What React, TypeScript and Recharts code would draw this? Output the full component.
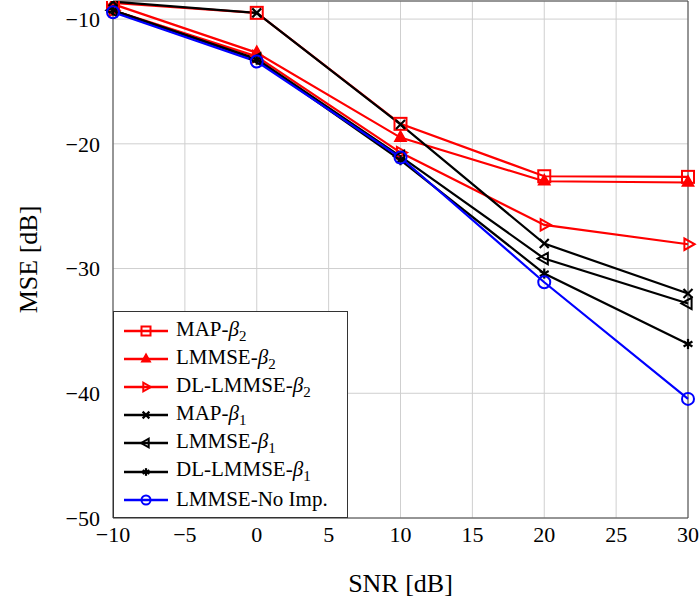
import { CartesianGrid, Line, LineChart, ReferenceLine, XAxis, YAxis } from "recharts";

// SNR points (dB)
const snr = [-10, 0, 10, 20, 30];

// MSE per estimator (dB)
const mapBeta2 = [-8.7, -9.5, -18.4, -22.6, -22.65];
const lmmseBeta2 = [-8.8, -12.7, -19.5, -23.0, -23.1];
const dlLmmseBeta2 = [-9.3, -13.0, -20.7, -26.5, -28.05];
const mapBeta1 = [-8.6, -9.5, -18.45, -28.0, -32.0];
const lmmseBeta1 = [-9.3, -13.2, -21.0, -29.2, -32.8];
const dlLmmseBeta1 = [-9.3, -13.25, -21.3, -30.4, -36.05];
const lmmseNoImp = [-9.45, -13.4, -21.1, -31.1, -40.45];

const xTicks = [-10, -5, 0, 5, 10, 15, 20, 25, 30];
const yTicks = [-50, -40, -30, -20, -10];
const yTop = -8.55;

type MarkerKind =
  | "square"
  | "triangleUp"
  | "triangleRight"
  | "cross"
  | "triangleLeft"
  | "star"
  | "circle";

interface Series {
  key: string;
  label: string;
  sub?: string;
  values: number[];
  color: string;
  marker: MarkerKind;
}

const series: Series[] = [
  { key: "mapB2", label: "MAP-", sub: "2", values: mapBeta2, color: "#ff0000", marker: "square" },
  { key: "lmmseB2", label: "LMMSE-", sub: "2", values: lmmseBeta2, color: "#ff0000", marker: "triangleUp" },
  { key: "dlB2", label: "DL-LMMSE-", sub: "2", values: dlLmmseBeta2, color: "#ff0000", marker: "triangleRight" },
  { key: "mapB1", label: "MAP-", sub: "1", values: mapBeta1, color: "#000000", marker: "cross" },
  { key: "lmmseB1", label: "LMMSE-", sub: "1", values: lmmseBeta1, color: "#000000", marker: "triangleLeft" },
  { key: "dlB1", label: "DL-LMMSE-", sub: "1", values: dlLmmseBeta1, color: "#000000", marker: "star" },
  { key: "noImp", label: "LMMSE-No Imp.", values: lmmseNoImp, color: "#0000ff", marker: "circle" },
];

const data = snr.map((x, i) => {
  const row: Record<string, number> = { snr: x };
  series.forEach((s) => {
    row[s.key] = s.values[i];
  });
  return row;
});

const FONT = "'Liberation Serif', 'DejaVu Serif', serif";
const minus = (v: number) => String(v).replace("-", "\u2212");

function Marker({
  kind,
  cx,
  cy,
  color,
  s,
}: {
  kind: MarkerKind;
  cx: number;
  cy: number;
  color: string;
  s: number;
}) {
  switch (kind) {
    case "square":
      return (
        <rect x={cx - s} y={cy - s} width={2 * s} height={2 * s} fill="none" stroke={color} strokeWidth={2} />
      );
    case "triangleUp":
      return (
        <polygon
          points={`${cx},${cy - s * 1.1} ${cx - s * 0.95},${cy + s * 0.6} ${cx + s * 0.95},${cy + s * 0.6}`}
          fill={color}
          stroke={color}
          strokeWidth={1.5}
        />
      );
    case "triangleRight":
      return (
        <polygon
          points={`${cx + s * 1.1},${cy} ${cx - s * 0.6},${cy - s * 0.95} ${cx - s * 0.6},${cy + s * 0.95}`}
          fill="none"
          stroke={color}
          strokeWidth={2}
        />
      );
    case "triangleLeft":
      return (
        <polygon
          points={`${cx - s * 1.1},${cy} ${cx + s * 0.6},${cy - s * 0.95} ${cx + s * 0.6},${cy + s * 0.95}`}
          fill="none"
          stroke={color}
          strokeWidth={2}
        />
      );
    case "cross": {
      const d = s * 0.75;
      return (
        <g stroke={color} strokeWidth={2.2}>
          <line x1={cx - d} y1={cy - d} x2={cx + d} y2={cy + d} />
          <line x1={cx - d} y1={cy + d} x2={cx + d} y2={cy - d} />
        </g>
      );
    }
    case "star": {
      // six-armed asterisk
      const arms = [0, 1, 2].map((k) => {
        const a = (90 + k * 60) * (Math.PI / 180);
        const dx = Math.cos(a) * s * 0.85;
        const dy = Math.sin(a) * s * 0.85;
        return <line key={k} x1={cx - dx} y1={cy - dy} x2={cx + dx} y2={cy + dy} />;
      });
      return (
        <g stroke={color} strokeWidth={2.2}>
          {arms}
        </g>
      );
    }
    case "circle":
    default:
      return <circle cx={cx} cy={cy} r={s} fill="none" stroke={color} strokeWidth={2} />;
  }
}

function LegendBox() {
  return (
    <div
      style={{
        position: "absolute",
        left: 113,
        top: 311,
        width: 235,
        height: 207,
        border: "1px solid #333",
        background: "#fff",
        fontFamily: FONT,
        fontSize: 21,
        paddingTop: 5,
        boxSizing: "border-box",
      }}
    >
      {series.map((s) => (
        <div key={s.key} style={{ height: 28.1, display: "flex", alignItems: "center" }}>
          <svg width={62} height={20} style={{ flexShrink: 0 }}>
            <line x1={10} y1={10} x2={54} y2={10} stroke={s.color} strokeWidth={2.5} />
            <Marker kind={s.marker} cx={32} cy={10} color={s.color} s={4.5} />
          </svg>
          <span style={{ whiteSpace: "nowrap" }}>
            {s.label}
            {s.sub && (
              <>
                <i>β</i>
                <sub style={{ fontSize: 15 }}>{s.sub}</sub>
              </>
            )}
          </span>
        </div>
      ))}
    </div>
  );
}

export default function App() {
  return (
    <div
      style={{
        position: "absolute",
        left: 0,
        top: 0,
        width: 700,
        height: 600,
        background: "#fff",
        fontFamily: FONT,
      }}
    >
      <LineChart
        width={700}
        height={600}
        data={data}
        margin={{ top: 1, right: 12, bottom: 0, left: 0 }}
        style={{ fontFamily: FONT }}
      >
        <CartesianGrid stroke="#cfcfcf" strokeWidth={1} />
        <XAxis
          dataKey="snr"
          type="number"
          domain={[-10, 30]}
          ticks={xTicks}
          tickFormatter={minus}
          height={82}
          tickLine={false}
          tickSize={0}
          tickMargin={8}
          axisLine={{ stroke: "#444" }}
          tick={{ fill: "#000", fontSize: 22, fontFamily: FONT }}
          label={{
            value: "SNR [dB]",
            position: "insideBottom",
            offset: 8,
            style: { fill: "#000", fontSize: 26, fontFamily: FONT },
          }}
        />
        <YAxis
          type="number"
          domain={[-50, yTop]}
          ticks={yTicks}
          tickFormatter={minus}
          width={113}
          tickLine={false}
          tickSize={0}
          tickMargin={13}
          axisLine={{ stroke: "#444" }}
          allowDataOverflow
          tick={{ fill: "#000", fontSize: 22, fontFamily: FONT }}
          label={{
            value: "MSE [dB]",
            angle: -90,
            position: "insideLeft",
            offset: 28,
            style: { fill: "#000", fontSize: 26, fontFamily: FONT, textAnchor: "middle" },
          }}
        />
        <ReferenceLine y={yTop} stroke="#444" />
        <ReferenceLine x={30} stroke="#444" />
        {series.map((s) => (
          <Line
            key={s.key}
            dataKey={s.key}
            type="linear"
            stroke={s.color}
            strokeWidth={2.2}
            isAnimationActive={false}
            dot={(p: any) => (
              <Marker key={`${s.key}-${p.index}`} kind={s.marker} cx={p.cx} cy={p.cy} color={s.color} s={6} />
            )}
            activeDot={false}
          />
        ))}
      </LineChart>
      <LegendBox />
    </div>
  );
}
